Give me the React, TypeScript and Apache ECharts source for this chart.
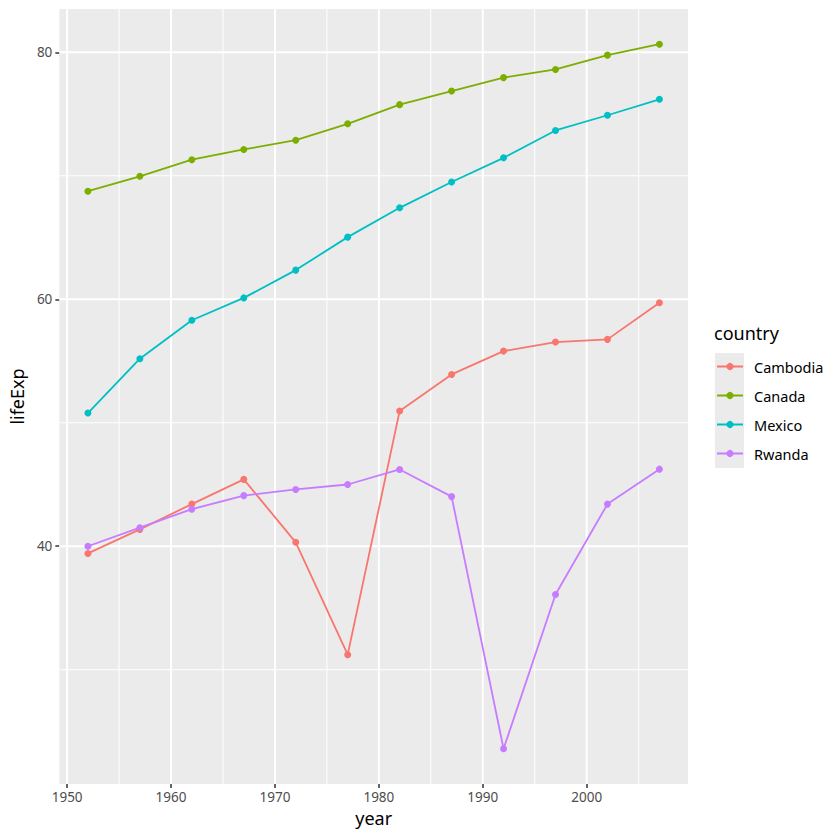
import React, { useEffect, useRef } from "react";
import * as echarts from "echarts";

const years = [1952, 1957, 1962, 1967, 1972, 1977, 1982, 1987, 1992, 1997, 2002, 2007];
const countries = ["Cambodia", "Canada", "Mexico", "Rwanda"];
const cambodia = [39.417, 41.366, 43.415, 45.415, 40.317, 31.22, 50.957, 53.914, 55.803, 56.534, 56.752, 59.723];
const canada = [68.75, 69.96, 71.3, 72.13, 72.88, 74.21, 75.76, 76.86, 77.95, 78.61, 79.77, 80.653];
const mexico = [50.789, 55.19, 58.299, 60.11, 62.361, 65.032, 67.405, 69.498, 71.455, 73.67, 74.902, 76.195];
const rwanda = [40.0, 41.5, 43.0, 44.1, 44.6, 45.0, 46.218, 44.02, 23.599, 36.087, 43.413, 46.242];
const colors = ["#F8766D", "#7CAE00", "#00BFC4", "#C77CFF"];

const xBreaks = [1950, 1960, 1970, 1980, 1990, 2000];
const xMinorBreaks = [1955, 1965, 1975, 1985, 1995, 2005];
const yBreaks = [40, 60, 80];
const yMinorBreaks = [30, 50, 70];

const FONT = "Noto Sans";

export default function App() {
  const ref = useRef<HTMLDivElement>(null);
  useEffect(() => {
    if (!ref.current) return;
    const chart = echarts.init(ref.current, null, { renderer: "svg" });
    const allValues = [...cambodia, ...canada, ...mexico, ...rwanda];
    const yLo = Math.min(...allValues);
    const yHi = Math.max(...allValues);
    const yPad = (yHi - yLo) * 0.05;
    const xLo = Math.min(...years);
    const xHi = Math.max(...years);
    const xPad = (xHi - xLo) * 0.05;

    const seriesData = [cambodia, canada, mexico, rwanda];

    const vLine = (width: number) => (params: any, api: any) => {
      const cs = params.coordSys;
      const x = api.coord([api.value(0), yLo])[0];
      return {
        type: "line",
        shape: { x1: x, y1: cs.y, x2: x, y2: cs.y + cs.height },
        style: { stroke: "#ffffff", lineWidth: width },
        silent: true,
      };
    };
    const hLine = (width: number) => (params: any, api: any) => {
      const cs = params.coordSys;
      const y = api.coord([xLo, api.value(1)])[1];
      return {
        type: "line",
        shape: { x1: cs.x, y1: y, x2: cs.x + cs.width, y2: y },
        style: { stroke: "#ffffff", lineWidth: width },
        silent: true,
      };
    };

    chart.setOption({
      animation: false,
      textStyle: { fontFamily: FONT },
      grid: {
        left: 58,
        top: 9,
        width: 630,
        height: 775,
        show: true,
        backgroundColor: "#EBEBEB",
        borderWidth: 0,
      },
      xAxis: {
        type: "value",
        min: xLo - xPad,
        max: xHi + xPad,
        axisLine: { show: false },
        axisTick: {
          show: true,
          length: 4,
          customValues: xBreaks,
          lineStyle: { color: "#333333", width: 1.5 },
        },
        axisLabel: {
          customValues: xBreaks,
          formatter: (v: number) => String(v),
          color: "#4D4D4D",
          fontSize: 13.5,
          fontFamily: FONT,
          margin: 6,
        },
        splitLine: { show: false },
        name: "year",
        nameLocation: "middle",
        nameGap: 24,
        nameTextStyle: { color: "#000000", fontSize: 18, fontFamily: FONT },
      },
      yAxis: {
        type: "value",
        min: yLo - yPad,
        max: yHi + yPad,
        axisLine: { show: false },
        axisTick: {
          show: true,
          length: 4,
          customValues: yBreaks,
          lineStyle: { color: "#333333", width: 1.5 },
        },
        axisLabel: {
          customValues: yBreaks,
          formatter: (v: number) => String(v),
          color: "#4D4D4D",
          fontSize: 13.5,
          fontFamily: FONT,
          margin: 7,
        },
        splitLine: { show: false },
        name: "lifeExp",
        nameLocation: "middle",
        nameRotate: 90,
        nameGap: 31,
        nameTextStyle: { color: "#000000", fontSize: 18, fontFamily: FONT },
      },
      legend: {
        data: countries,
        orient: "vertical",
        left: 716,
        top: 359,
        padding: 0,
        itemWidth: 26,
        itemHeight: 9,
        itemGap: 14,
        selectedMode: false,
        textStyle: { color: "#000000", fontSize: 14.5, fontFamily: FONT, padding: [0, 0, 0, 6] },
      },
      graphic: [
        {
          type: "rect",
          left: 715,
          top: 353,
          shape: { width: 29, height: 115 },
          style: { fill: "#EBEBEB" },
          z: -1,
          silent: true,
        },
        {
          type: "text",
          left: 714,
          top: 324,
          style: { text: "country", fontSize: 18, fontFamily: FONT, fill: "#000000" },
          silent: true,
        },
      ],
      series: [
        {
          type: "custom",
          renderItem: vLine(1),
          data: xMinorBreaks.map((v) => [v, yLo]),
          z: 1,
          silent: true,
        },
        {
          type: "custom",
          renderItem: hLine(1),
          data: yMinorBreaks.map((v) => [xLo, v]),
          z: 1,
          silent: true,
        },
        {
          type: "custom",
          renderItem: vLine(2),
          data: xBreaks.map((v) => [v, yLo]),
          z: 1,
          silent: true,
        },
        {
          type: "custom",
          renderItem: hLine(2),
          data: yBreaks.map((v) => [xLo, v]),
          z: 1,
          silent: true,
        },
        ...countries.map((name, i) => ({
          name,
          type: "line",
          data: years.map((y, j) => [y, seriesData[i][j]]),
          symbol: "circle",
          symbolSize: 7,
          showSymbol: true,
          color: colors[i],
          lineStyle: { color: colors[i], width: 1.8 },
          itemStyle: { color: colors[i] },
          z: 3,
        })),
      ],
    });
    return () => chart.dispose();
  }, []);
  return (
    <div
      ref={ref}
      style={{ position: "absolute", left: 0, top: 0, width: 840, height: 840 }}
    />
  );
}
